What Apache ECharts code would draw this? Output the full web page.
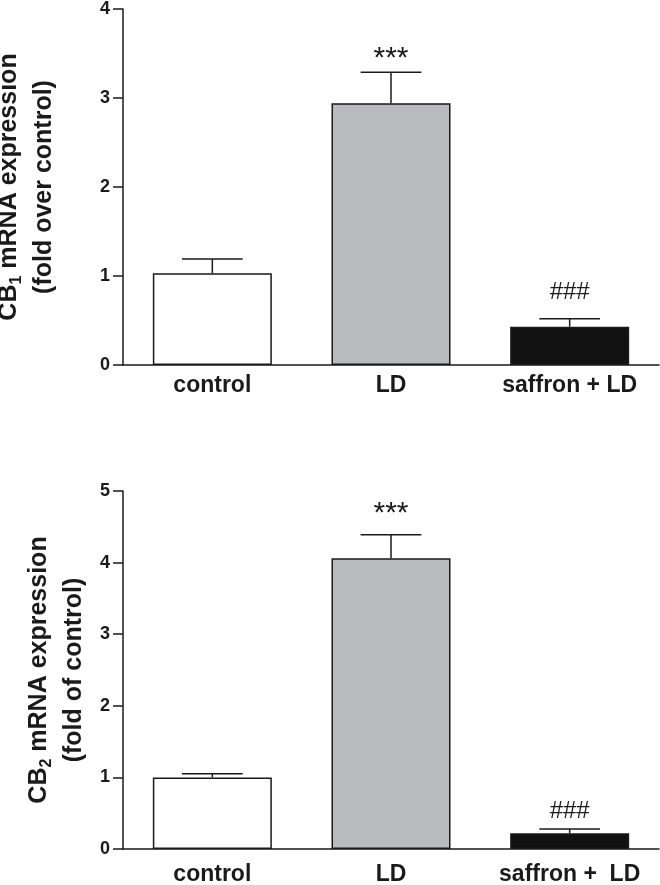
<!DOCTYPE html>
<html>
<head>
<meta charset="utf-8">
<script src="https://cdn.jsdelivr.net/npm/echarts@6/dist/echarts.min.js"></script>
<style>html,body{margin:0;padding:0;background:#fff;}#c{width:660px;height:885px;}</style>
</head>
<body>
<div id="c"></div>
<script>
// ---- data ----
const categoriesTop = ['control', 'LD', 'saffron + LD'];
const meansTop = [1.03, 2.94, 0.43];
const errorsTop = [0.16, 0.35, 0.09];
const marksTop = ['', '***', '###'];
const ticksTop = [0, 1, 2, 3, 4];

const categoriesBottom = ['control', 'LD', 'saffron +  LD'];
const meansBottom = [1.00, 4.06, 0.22];
const errorsBottom = [0.05, 0.33, 0.06];
const marksBottom = ['', '***', '###'];
const ticksBottom = [0, 1, 2, 3, 4, 5];

// ---- styles ----
const FONT = "'Liberation Sans', Arial, Helvetica, sans-serif";
const INK = '#1a1a1a';
const barColors = ['#ffffff', '#b9babd', '#111111'];

function yName(sub, second) {
  return '{a|CB}{s|' + sub + '}{a| mRNA expression}\n{a|' + second + '}';
}
const nameRich = {
  a: {fontSize: 25, fontWeight: 'bold', fontFamily: FONT, color: INK, lineHeight: 35},
  s: {fontSize: 16, fontWeight: 'bold', fontFamily: FONT, color: INK, lineHeight: 35, verticalAlign: 'bottom', padding: [0, 0, 2, 0]}
};

function errRender(marks, gaps) {
  return function (params, api) {
    const x = api.value(0), m = api.value(1), e = api.value(2);
    const p0 = api.coord([x, m]);
    const p1 = api.coord([x, m + e]);
    const half = api.size([1, 0])[0] * 0.17;
    const mark = marks[params.dataIndex];
    const children = [
      {type: 'line', shape: {x1: p0[0], y1: p0[1], x2: p1[0], y2: p1[1]}, style: {stroke: INK, lineWidth: 1.5}},
      {type: 'line', shape: {x1: p1[0] - half, y1: p1[1], x2: p1[0] + half, y2: p1[1]}, style: {stroke: INK, lineWidth: 1.5}}
    ];
    if (mark) {
      const isStar = mark.indexOf('*') >= 0;
      children.push({
        type: 'text',
        style: {
          text: mark, x: p1[0], y: p1[1] - (isStar ? gaps[0] : gaps[1]),
          align: 'center', verticalAlign: 'bottom',
          fontSize: isStar ? 30 : 24, fontWeight: 'normal', fontFamily: FONT, fill: INK
        }
      });
    }
    return {type: 'group', children: children};
  };
}

function barData(means) {
  return means.map((v, i) => ({value: v, itemStyle: {color: barColors[i]}}));
}
function errData(means, errs) {
  return means.map((v, i) => [i, v, errs[i]]);
}

function xAxis(cats, idx, margin) {
  return {
    type: 'category', gridIndex: idx, data: cats,
    axisLine: {lineStyle: {color: INK, width: 1.5}},
    axisTick: {show: false},
    axisLabel: {fontSize: 23, fontWeight: 'bold', fontFamily: FONT, color: INK, margin: margin, interval: 0}
  };
}
function yAxis(ticks, idx, name, gap) {
  return {
    type: 'value', gridIndex: idx,
    min: ticks[0], max: ticks[ticks.length - 1], interval: 1,
    splitLine: {show: false},
    axisLine: {show: true, lineStyle: {color: INK, width: 1.5}},
    axisTick: {show: true, inside: false, length: 10, lineStyle: {color: INK, width: 1.5}},
    axisLabel: {fontSize: 18, fontWeight: 'bold', fontFamily: FONT, color: INK, margin: 13},
    name: name, nameLocation: 'middle', nameRotate: 90, nameGap: gap,
    nameTextStyle: {rich: nameRich, align: 'center'}
  };
}

const chart = echarts.init(document.getElementById('c'), null, {renderer: 'canvas'});
chart.setOption({
  animation: false,
  backgroundColor: '#ffffff',
  grid: [
    {left: 123, top: 9, width: 536, height: 356, outerBoundsMode: 'none', containLabel: false},
    {left: 123, top: 491, width: 536, height: 358, outerBoundsMode: 'none', containLabel: false}
  ],
  xAxis: [xAxis(categoriesTop, 0, 9), xAxis(categoriesBottom, 1, 14)],
  yAxis: [
    yAxis(ticksTop, 0, yName('1', '(fold over control)'), 61),
    yAxis(ticksBottom, 1, yName('2', '(fold of control)'), 31)
  ],
  series: [
    {type: 'bar', xAxisIndex: 0, yAxisIndex: 0, data: barData(meansTop), barWidth: 119,
     itemStyle: {borderColor: INK, borderWidth: 1.5}},
    {type: 'custom', xAxisIndex: 0, yAxisIndex: 0, data: errData(meansTop, errorsTop),
     renderItem: errRender(marksTop, [-2, 14]), z: 5},
    {type: 'bar', xAxisIndex: 1, yAxisIndex: 1, data: barData(meansBottom), barWidth: 119,
     itemStyle: {borderColor: INK, borderWidth: 1.5}},
    {type: 'custom', xAxisIndex: 1, yAxisIndex: 1, data: errData(meansBottom, errorsBottom),
     renderItem: errRender(marksBottom, [6, 6]), z: 5}
  ]
});
</script>
</body>
</html>
